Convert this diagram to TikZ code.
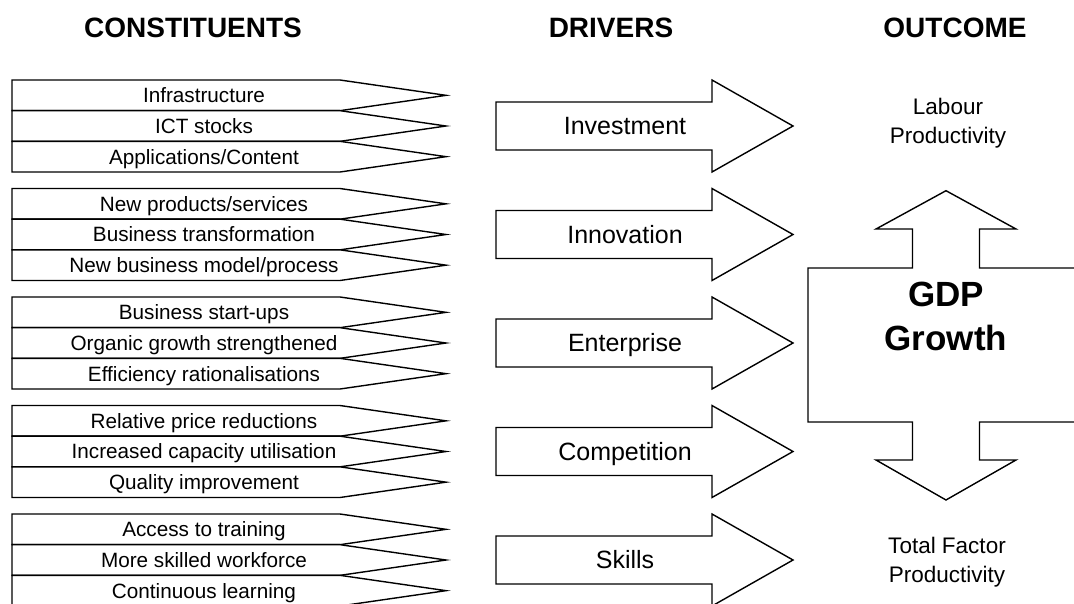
\documentclass[tikz,border=0pt]{standalone}
\usepackage{fontspec}
\setmainfont{Liberation Sans}

% one constituent row: name, top y, text
\newcommand{\crow}[3]{%
  \draw[outline] (12,#2) -- (340,#2) -- (446,#2+15.33) -- (340,#2+30.67) -- (12,#2+30.67) -- cycle;
  \node[itemtxt] (#1) at (204,#2+22.7) {#3};}

% one driver arrow: name, centre y, text
\newcommand{\drvarrow}[3]{%
  \draw[outline] (496,#2-24) -- (712,#2-24) -- (712,#2-46) -- (793,#2)
     -- (712,#2+46) -- (712,#2+24) -- (496,#2+24) -- cycle;
  \node[drvtxt] (#1) at (625,#2+8.5) {#3};}

\begin{document}
\begin{tikzpicture}[x=1pt,y=-1pt,line join=miter,
  outline/.style={draw=black,line width=1.4pt,fill=white},
  hdr/.style={font=\fontsize{28}{30}\selectfont\bfseries,anchor=base,inner sep=0pt},
  itemtxt/.style={font=\fontsize{20.7}{22}\selectfont,anchor=base,inner sep=0pt},
  drvtxt/.style={font=\fontsize{25}{27}\selectfont,anchor=base,inner sep=0pt},
  outtxt/.style={font=\fontsize{22.5}{25}\selectfont,anchor=base,inner sep=0pt},
  gdptxt/.style={font=\fontsize{35}{37}\selectfont\bfseries,anchor=base,inner sep=0pt}]
\useasboundingbox (0,0) rectangle (1074,603);
\clip (0,0) rectangle (1074,603);

% column headings
\node[hdr] (hcons) at (193,37) {CONSTITUENTS};
\node[hdr] (hdrv)  at (611,37) {DRIVERS};
\node[hdr] (hout)  at (955,37) {OUTCOME};

% constituents, three rows per driver
\crow{c11}{80}{Infrastructure}
\crow{c12}{110.67}{ICT stocks}
\crow{c13}{141.33}{Applications/Content}

\crow{c21}{188.5}{New products/services}
\crow{c22}{219.17}{Business transformation}
\crow{c23}{249.83}{New business model/process}

\crow{c31}{297}{Business start-ups}
\crow{c32}{327.67}{Organic growth strengthened}
\crow{c33}{358.33}{Efficiency rationalisations}

\crow{c41}{405.5}{Relative price reductions}
\crow{c42}{436.17}{Increased capacity utilisation}
\crow{c43}{466.83}{Quality improvement}

\crow{c51}{514}{Access to training}
\crow{c52}{544.67}{More skilled workforce}
\crow{c53}{575.33}{Continuous learning}

% drivers
\drvarrow{dinv}{126}{Investment}
\drvarrow{dinn}{234.5}{Innovation}
\drvarrow{dent}{343}{Enterprise}
\drvarrow{dcom}{451.5}{Competition}
\drvarrow{dski}{560}{Skills}

% outcome: double-headed block arrow
\draw[outline] (808,268) -- (912.5,268) -- (912.5,229) -- (876,229) -- (946,190.7)
  -- (1016,229) -- (979.5,229) -- (979.5,268) -- (1084,268) -- (1084,422)
  -- (979.5,422) -- (979.5,460) -- (1016,460) -- (946,500) -- (876,460)
  -- (912.5,460) -- (912.5,422) -- (808,422) -- cycle;
\node[gdptxt] (gdp1) at (946,306.7) {GDP};
\node[gdptxt] (gdp2) at (946,350.7) {Growth};

\node[outtxt] (lp1) at (948,114.3) {Labour};
\node[outtxt] (lp2) at (948,143.3) {Productivity};
\node[outtxt] (tf1) at (947,553) {Total Factor};
\node[outtxt] (tf2) at (947,582) {Productivity};
\end{tikzpicture}
\end{document}
